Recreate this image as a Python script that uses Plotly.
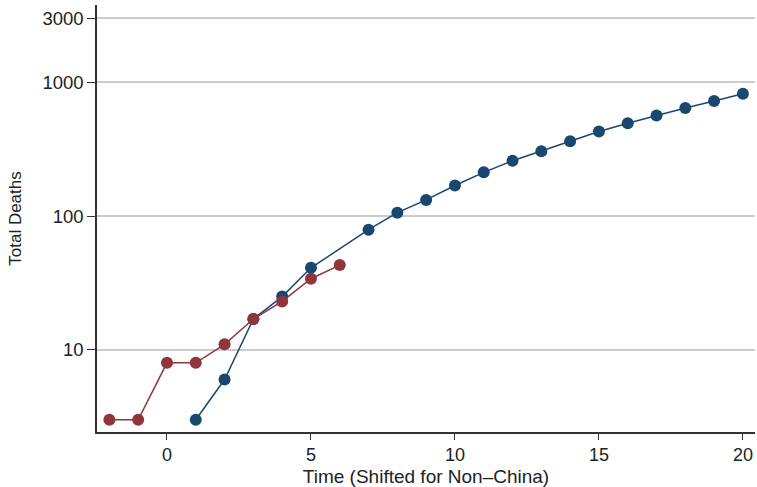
import plotly.graph_objects as go

# Data
blue_x = [1, 2, 3, 4, 5, 7, 8, 9, 10, 11, 12, 13, 14, 15, 16, 17, 18, 19, 20]
blue_y = [3, 6, 17, 25, 41, 79, 106, 132, 169, 212, 259, 305, 362, 428, 494, 564, 641, 723, 820]

red_x = [-2, -1, 0, 1, 2, 3, 4, 5, 6]
red_y = [3, 3, 8, 8, 11, 17, 23, 34, 43]

x_ticks = [0, 5, 10, 15, 20]
y_ticks = [10, 100, 1000, 3000]
y_tick_labels = ["10", "100", "1000", "3000"]

BLUE = "#1a476f"
RED = "#90353b"
FONT = "Liberation Sans, Arial, sans-serif"

fig = go.Figure()
fig.add_trace(go.Scatter(x=blue_x, y=blue_y, mode="lines+markers",
                         line=dict(color=BLUE, width=1.5),
                         marker=dict(color=BLUE, size=12),
                         showlegend=False))
fig.add_trace(go.Scatter(x=red_x, y=red_y, mode="lines+markers",
                         line=dict(color=RED, width=1.5),
                         marker=dict(color=RED, size=12),
                         showlegend=False))

fig.update_layout(
    width=757, height=487,
    margin=dict(l=97, r=2, t=5, b=55),
    paper_bgcolor="white", plot_bgcolor="white",
    font=dict(family=FONT, size=18, color="#222"),
    xaxis=dict(range=[-2.43, 20.42], tickvals=x_ticks, showgrid=False,
               zeroline=False, showline=True, linecolor="#333", linewidth=1.5,
               ticks="outside", ticklen=6, tickcolor="#333", tickwidth=1.2,
               tickfont=dict(size=18, color="#222"),
               title=dict(text="Time (Shifted for Non\u2013China)", font=dict(size=19, color="#222"), standoff=6)),
    yaxis=dict(type="log", range=[0.386, 3.577], tickvals=y_ticks, ticktext=y_tick_labels,
               showgrid=True, gridcolor="#cccccc", gridwidth=1.5,
               zeroline=False, showline=True, linecolor="#333", linewidth=1.5,
               ticks="outside", ticklen=8, tickcolor="#333", tickwidth=1.2,
               tickfont=dict(size=18.5, color="#222"),
               title=dict(text="Total Deaths", font=dict(size=17, color="#222"), standoff=16)),
)

fig.write_html("out.html")
